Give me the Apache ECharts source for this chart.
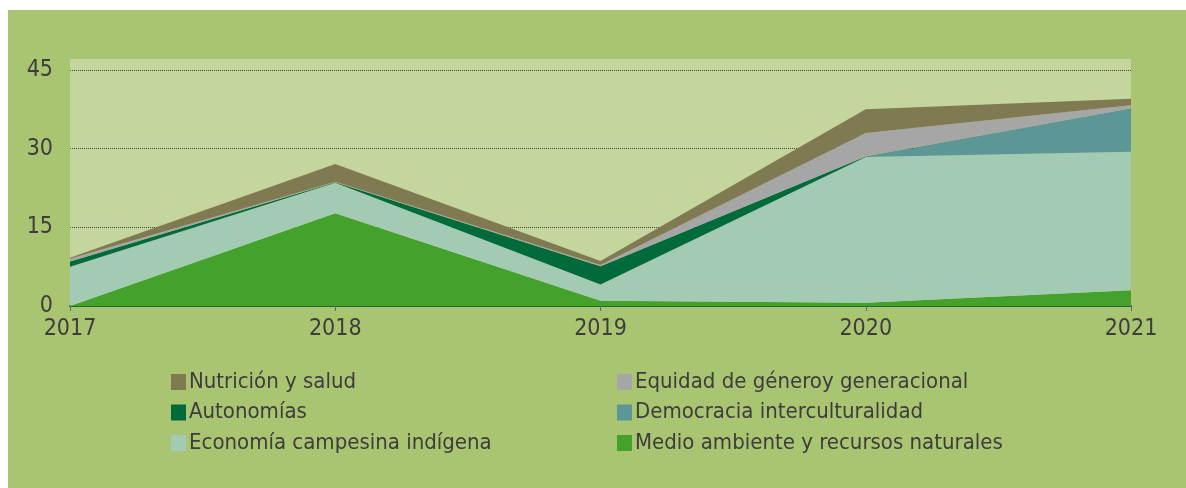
<!DOCTYPE html>
<html>
<head>
<meta charset="utf-8">
<script src="https://cdn.jsdelivr.net/npm/echarts@6/dist/echarts.min.js"></script>
<style>
  html, body { margin: 0; padding: 0; background: #fff; }
  #panel { position: absolute; left: 8px; top: 10px; width: 1178px; height: 478px; background: #a9c572; }
  #chart { position: absolute; left: 0; top: 0; width: 1186px; height: 488px; }
</style>
</head>
<body>
<div id="panel"></div>
<div id="chart"></div>
<script>
const years = ['2017', '2018', '2019', '2020', '2021']

// stacked from bottom to top
const medioAmbiente = [0, 17.7, 1.0, 0.6, 3.0]
const economia = [7.5, 5.8, 3.1, 27.8, 26.4]
const democracia = [0, 0, 0, 0, 8.3]
const autonomias = [1.0, 0.1, 3.5, 0.1, 0]
const equidad = [0.5, 0.1, 0.2, 4.5, 0.6]
const nutricion = [0.2, 3.4, 0.8, 4.5, 1.2]

const yTicks = [0, 15, 30, 45]

const FONT = "'Liberation Sans Narrow', 'DejaVu Sans Condensed', 'Liberation Sans', sans-serif"
const TEXT = '#3d3d3d'

const seriesDefs = [
  { name: 'Medio ambiente y recursos naturales', data: medioAmbiente, color: '#44a12c' },
  { name: 'Economía campesina indígena', data: economia, color: '#a3cab3' },
  { name: 'Democracia interculturalidad', data: democracia, color: '#5c9696' },
  { name: 'Autonomías', data: autonomias, color: '#006b3a' },
  { name: 'Equidad de géneroy generacional', data: equidad, color: '#a5a6a5' },
  { name: 'Nutrición y salud', data: nutricion, color: '#807a52' },
]

const legendText = { color: TEXT, fontFamily: FONT, fontSize: 22, padding: [0, 0, 0, -2] }

const chart = echarts.init(document.getElementById('chart'))
chart.setOption({
  backgroundColor: 'transparent',
  animation: false,
  grid: {
    left: 70, right: 55, top: 59, bottom: 182,
    show: true, backgroundColor: '#c4d59d', borderWidth: 0,
  },
  legend: [
    {
      left: 166, top: 366, orient: 'vertical', itemWidth: 15, itemHeight: 16, itemGap: 8.5,
      textStyle: legendText, icon: 'rect',
      data: ['Nutrición y salud', 'Autonomías', 'Economía campesina indígena'],
    },
    {
      left: 612, top: 366, orient: 'vertical', itemWidth: 15, itemHeight: 16, itemGap: 8.5,
      textStyle: legendText, icon: 'rect',
      data: ['Equidad de géneroy generacional', 'Democracia interculturalidad', 'Medio ambiente y recursos naturales'],
    },
  ],
  xAxis: {
    type: 'category',
    data: years,
    boundaryGap: false,
    axisLine: { lineStyle: { color: '#1d6b3a', width: 2 } },
    axisTick: { show: true, length: 5, lineStyle: { color: '#666' } },
    axisLabel: { color: TEXT, fontFamily: FONT, fontSize: 23, margin: 12 },
    splitLine: { show: false },
  },
  yAxis: {
    type: 'value',
    min: 0,
    max: 47.1,
    interval: 15,
    axisLine: { show: false },
    axisTick: { show: false },
    axisLabel: {
      color: TEXT, fontFamily: FONT, fontSize: 23, margin: 17,
      formatter: v => (yTicks.includes(v) ? String(v) : ''),
    },
    splitLine: {
      show: true,
      lineStyle: { color: ['transparent', '#444', '#444', '#444', 'transparent'], type: 'dotted', width: 1 },
    },
  },
  series: seriesDefs.map(s => ({
    name: s.name,
    type: 'line',
    stack: 'total',
    data: s.data,
    symbol: 'none',
    lineStyle: { width: 0 },
    areaStyle: { color: s.color, opacity: 1 },
    itemStyle: { color: s.color },
    z: 3,
  })),
})
</script>
</body>
</html>
